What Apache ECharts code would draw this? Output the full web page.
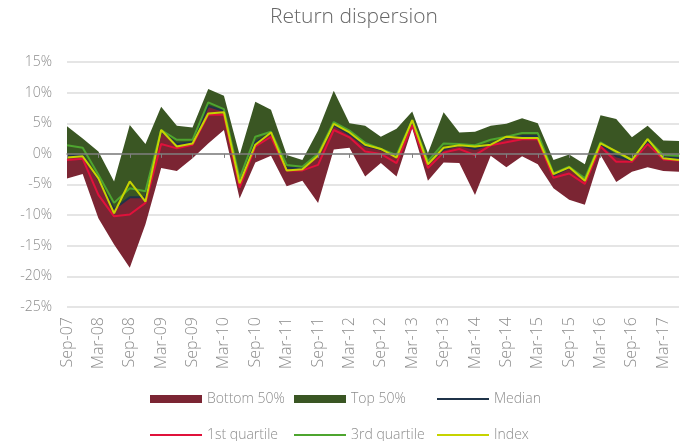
<!DOCTYPE html>
<html>
<head>
<meta charset="utf-8">
<script src="https://cdn.jsdelivr.net/npm/echarts@6/dist/echarts.min.js"></script>
<style>
	html,body{margin:0;padding:0;background:#fff;}
	#chart{width:686px;height:441px;}
</style>
</head>
<body>
<div id="chart"></div>
<script>
	// quarter ends, Sep-07 .. Jun-17
	var categories = ["Sep-07","Dec-07","Mar-08","Jun-08","Sep-08","Dec-08","Mar-09","Jun-09","Sep-09","Dec-09",
		"Mar-10","Jun-10","Sep-10","Dec-10","Mar-11","Jun-11","Sep-11","Dec-11","Mar-12","Jun-12",
		"Sep-12","Dec-12","Mar-13","Jun-13","Sep-13","Dec-13","Mar-14","Jun-14","Sep-14","Dec-14",
		"Mar-15","Jun-15","Sep-15","Dec-15","Mar-16","Jun-16","Sep-16","Dec-16","Mar-17","Jun-17"];

	// returns in %
	var maxVals = [4.5,2.5,0.4,-4.5,4.7,1.6,7.7,4.6,4.3,10.6,
		9.5,-0.2,8.5,7.2,-0.2,-1.0,3.8,10.3,5.0,4.6,
		2.8,4.1,6.9,0.1,6.8,3.5,3.6,4.6,4.9,5.8,
		5.0,-1.0,-0.1,-1.7,6.3,5.7,2.7,4.6,2.2,2.1];
	var q3Vals = [1.4,1.0,-3.4,-8.0,-5.6,-6.1,3.9,2.3,2.3,8.4,
		7.3,-4.0,2.8,3.6,-1.8,-2.1,0.0,5.2,3.8,1.8,
		0.8,-0.2,5.5,-1.2,1.7,1.6,1.4,2.3,2.8,3.4,
		3.4,-3.2,-2.1,-4.0,1.9,0.3,-1.0,2.4,-0.2,-0.3];
	var medianVals = [-0.3,-0.2,-4.2,-9.0,-7.1,-7.1,3.7,1.6,1.9,7.8,
		7.0,-4.5,1.9,3.4,-2.3,-2.3,-0.2,4.7,3.2,1.3,
		0.7,-0.4,5.4,-1.5,0.7,1.4,0.8,1.6,2.6,2.9,
		2.9,-3.5,-2.3,-4.2,1.6,-0.4,-1.1,2.1,-0.6,-0.7];
	var q1Vals = [-1.0,-0.8,-6.7,-10.2,-9.9,-8.0,1.6,0.9,1.5,6.4,
		6.4,-5.5,1.2,2.8,-2.7,-2.7,-1.8,3.9,2.7,0.4,
		0.0,-1.5,4.7,-2.3,0.2,0.8,-0.2,1.4,1.9,2.4,
		2.4,-3.9,-3.2,-4.9,1.2,-1.3,-1.3,1.6,-0.9,-1.1];
	var minVals = [-4.0,-3.3,-10.5,-14.8,-18.6,-11.5,-2.3,-2.8,-0.7,1.7,
		3.9,-7.3,-1.4,-0.3,-5.3,-4.4,-8.0,0.7,1.0,-3.7,
		-1.5,-3.7,4.2,-4.4,-1.4,-1.5,-6.7,-0.3,-2.2,-0.4,
		-1.7,-5.6,-7.5,-8.3,-0.2,-4.6,-2.9,-2.2,-2.8,-2.9];
	var indexVals = [-0.6,-0.4,-4.0,-9.7,-4.5,-7.8,3.9,1.2,1.7,6.6,
		6.8,-4.8,1.5,3.5,-2.7,-2.5,-0.3,4.9,3.5,1.5,
		0.8,-0.6,5.5,-1.7,1.0,1.4,1.2,1.5,2.8,2.6,
		2.6,-3.3,-2.2,-4.4,1.7,0.4,-1.0,2.4,-0.7,-1.0];

	var yMin = -25, yMax = 15, yStep = 5;

	// bands for the stacked areas
	var bottomBand = medianVals.map(function(v,i){ return +(v - minVals[i]).toFixed(2); });
	var topBand = maxVals.map(function(v,i){ return +(v - medianVals[i]).toFixed(2); });

	var txtFont = "'Open Sans', sans-serif";
	var lineIcon = 'path://M0,0 L52,0 L52,2 L0,2 Z';

	// one legend per entry, placed on a 3 x 2 grid like the original
	function legendItem(left, top, name, icon){
		return {
			left:left,
			top:top,
			padding:0,
			itemWidth:52,
			itemHeight:8,
			textStyle:{
				color:"#8c8c8c",
				fontFamily:txtFont,
				fontWeight:300,
				fontSize:14
			},
			data:[{name:name, icon:icon}]
		};
	}

	var option = {
		animation:false,
		backgroundColor:"#fff",
		title:{
			text:"Return dispersion",
			left:270,
			top:7,
			padding:0,
			textStyle:{
				color:"#666",
				fontFamily:txtFont,
				fontWeight:300,
				fontSize:21
			}
		},
		legend:[
			legendItem(150, 392, "Bottom 50%", "rect"),
			legendItem(294, 392, "Top 50%", "rect"),
			legendItem(437, 392, "Median", lineIcon),
			legendItem(150, 428, "1st quartile", lineIcon),
			legendItem(294, 428, "3rd quartile", lineIcon),
			legendItem(437, 428, "Index", lineIcon)
		],
		grid:{
			left:67,
			right:7,
			top:62,
			bottom:134
		},
		xAxis:[{
			// axis line on zero, ticks only
			type:"category",
			data:categories,
			boundaryGap:false,
			axisLine:{
				onZero:true,
				lineStyle:{color:"#7f7f7f",width:1.5}
			},
			axisTick:{
				show:true,
				interval:1,
				length:4,
				lineStyle:{color:"#7f7f7f"}
			},
			axisLabel:{show:false},
			splitLine:{show:false},
			z:5
		},{
			// labels at the bottom of the plot
			type:"category",
			data:categories,
			boundaryGap:false,
			position:"bottom",
			axisLine:{show:false,onZero:false},
			axisTick:{show:false},
			axisLabel:{
				interval:1,
				rotate:90,
				margin:10,
				color:"#8c8c8c",
				fontFamily:txtFont,
				fontWeight:300,
				fontSize:16
			},
			splitLine:{show:false}
		}],
		yAxis:{
			type:"value",
			min:yMin,
			max:yMax,
			interval:yStep,
			axisLine:{show:false},
			axisTick:{show:false},
			axisLabel:{
				formatter:"{value}%",
				margin:15,
				color:"#8c8c8c",
				fontFamily:txtFont,
				fontWeight:300,
				fontSize:14
			},
			splitLine:{
				lineStyle:{color:"#dcdcdc",width:1.5}
			}
		},
		series:[{
			name:"base",
			type:"line",
			stack:"band",
			stackStrategy:"all",
			data:minVals,
			symbol:"none",
			lineStyle:{opacity:0},
			silent:true
		},{
			name:"Bottom 50%",
			type:"line",
			stack:"band",
			stackStrategy:"all",
			data:bottomBand,
			symbol:"none",
			color:"#7b2533",
			lineStyle:{width:0},
			areaStyle:{color:"#7b2533",opacity:1}
		},{
			name:"Top 50%",
			type:"line",
			stack:"band",
			stackStrategy:"all",
			data:topBand,
			symbol:"none",
			color:"#3a5623",
			lineStyle:{width:0},
			areaStyle:{color:"#3a5623",opacity:1}
		},{
			name:"Median",
			type:"line",
			data:medianVals,
			symbol:"none",
			color:"#1f3349",
			lineStyle:{width:2},
			z:3
		},{
			name:"1st quartile",
			type:"line",
			data:q1Vals,
			symbol:"none",
			color:"#e0113b",
			lineStyle:{width:2},
			z:3
		},{
			name:"3rd quartile",
			type:"line",
			data:q3Vals,
			symbol:"none",
			color:"#4ea52f",
			lineStyle:{width:2},
			z:3
		},{
			name:"Index",
			type:"line",
			data:indexVals,
			symbol:"none",
			color:"#c6d300",
			lineStyle:{width:2},
			z:3
		}]
	};

	var mychart = echarts.init(document.getElementById("chart"));
	mychart.setOption(option);
</script>
</body>
</html>
